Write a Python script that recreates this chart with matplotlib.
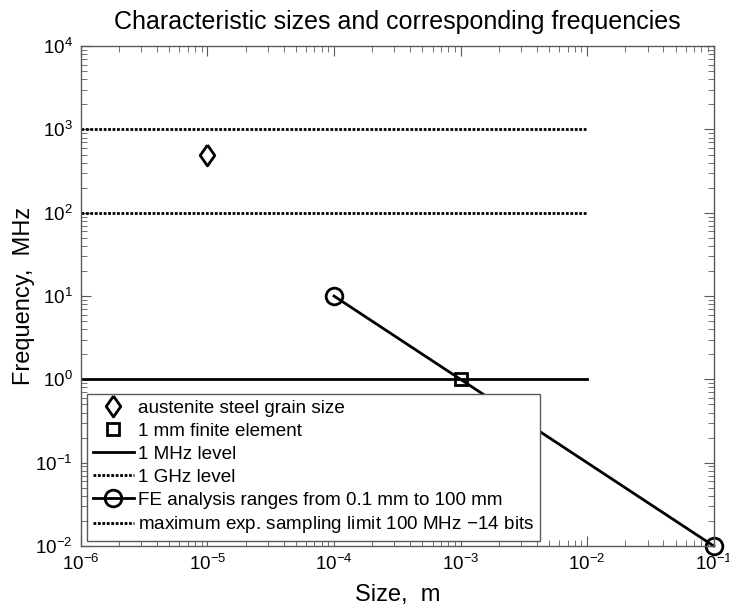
import matplotlib
matplotlib.use("Agg")
import matplotlib.pyplot as plt
from matplotlib.ticker import LogLocator, NullFormatter

plt.rcParams['font.family'] = ['Liberation Sans', 'DejaVu Sans']
plt.rcParams['mathtext.fontset'] = 'custom'
plt.rcParams['mathtext.rm'] = 'Liberation Sans'
plt.rcParams['mathtext.it'] = 'Liberation Sans:italic'

# data
grain_size = [1e-5]
grain_freq = [500]
elem_size = [1e-3]
elem_freq = [1]
level_x = [1e-6, 1e-2]
mhz_level = [1, 1]
ghz_level = [1e3, 1e3]
sampling_level = [1e2, 1e2]
fe_size = [1e-4, 1e-1]
fe_freq = [10, 0.01]

# slightly narrow diamond like the original
diamond = [(0, 1), (0.7, 0), (0, -1), (-0.7, 0), (0, 1)]

fig = plt.figure(figsize=(7.29, 6.07), dpi=100)
ax = fig.add_axes([0.111, 0.1005, 0.868, 0.8235])

ax.plot(grain_size, grain_freq, ls='none', marker=diamond, ms=15, mfc='none',
        mec='black', mew=2, label='austenite steel grain size')
ax.plot(elem_size, elem_freq, ls='none', marker='s', ms=9, mfc='none',
        mec='black', mew=2, label='1 mm finite element')
ax.plot(level_x, mhz_level, color='black', lw=2, label='1 MHz level')
ax.plot(level_x, ghz_level, color='black', lw=2, ls=(0, (1, 0.6)),
        label='1 GHz level')
ax.plot(fe_size, fe_freq, color='black', lw=2, marker='o', ms=12, mfc='none',
        mew=2, clip_on=False,
        label='FE analysis ranges from 0.1 mm to 100 mm')
ax.plot(level_x, sampling_level, color='black', lw=2, ls=(0, (1, 0.6)),
        label='maximum exp. sampling limit 100 MHz $-$14 bits')

ax.set_xscale('log')
ax.set_yscale('log')
ax.set_xlim(1e-6, 1e-1)
ax.set_ylim(1e-2, 1e4)
ax.xaxis.set_minor_locator(LogLocator(base=10, subs=range(2, 10), numticks=20))
ax.yaxis.set_minor_locator(LogLocator(base=10, subs=range(2, 10), numticks=20))
ax.xaxis.set_minor_formatter(NullFormatter())
ax.yaxis.set_minor_formatter(NullFormatter())

for s in ax.spines.values():
    s.set_color('0.35')
    s.set_linewidth(1)
ax.tick_params(which='both', direction='in', top=True, right=True,
               color='0.35', labelsize=13.5)
ax.tick_params(which='major', length=7, pad=6)
ax.tick_params(which='minor', length=4)

ax.set_title('Characteristic sizes and corresponding frequencies',
             fontsize=18, pad=12)
ax.set_xlabel('Size,  m', fontsize=17, labelpad=7)
ax.set_ylabel('Frequency,  MHz', fontsize=17, labelpad=0)

leg = ax.legend(loc='lower left', bbox_to_anchor=(0.0095, 0.01),
                borderaxespad=0, fontsize=13.6, fancybox=False,
                handlelength=2.2, handletextpad=0.2, labelspacing=0.3,
                borderpad=0.3, framealpha=1)
leg.get_frame().set_edgecolor('0.35')
leg.get_frame().set_linewidth(1)

fig.savefig('out.png', dpi=100)
